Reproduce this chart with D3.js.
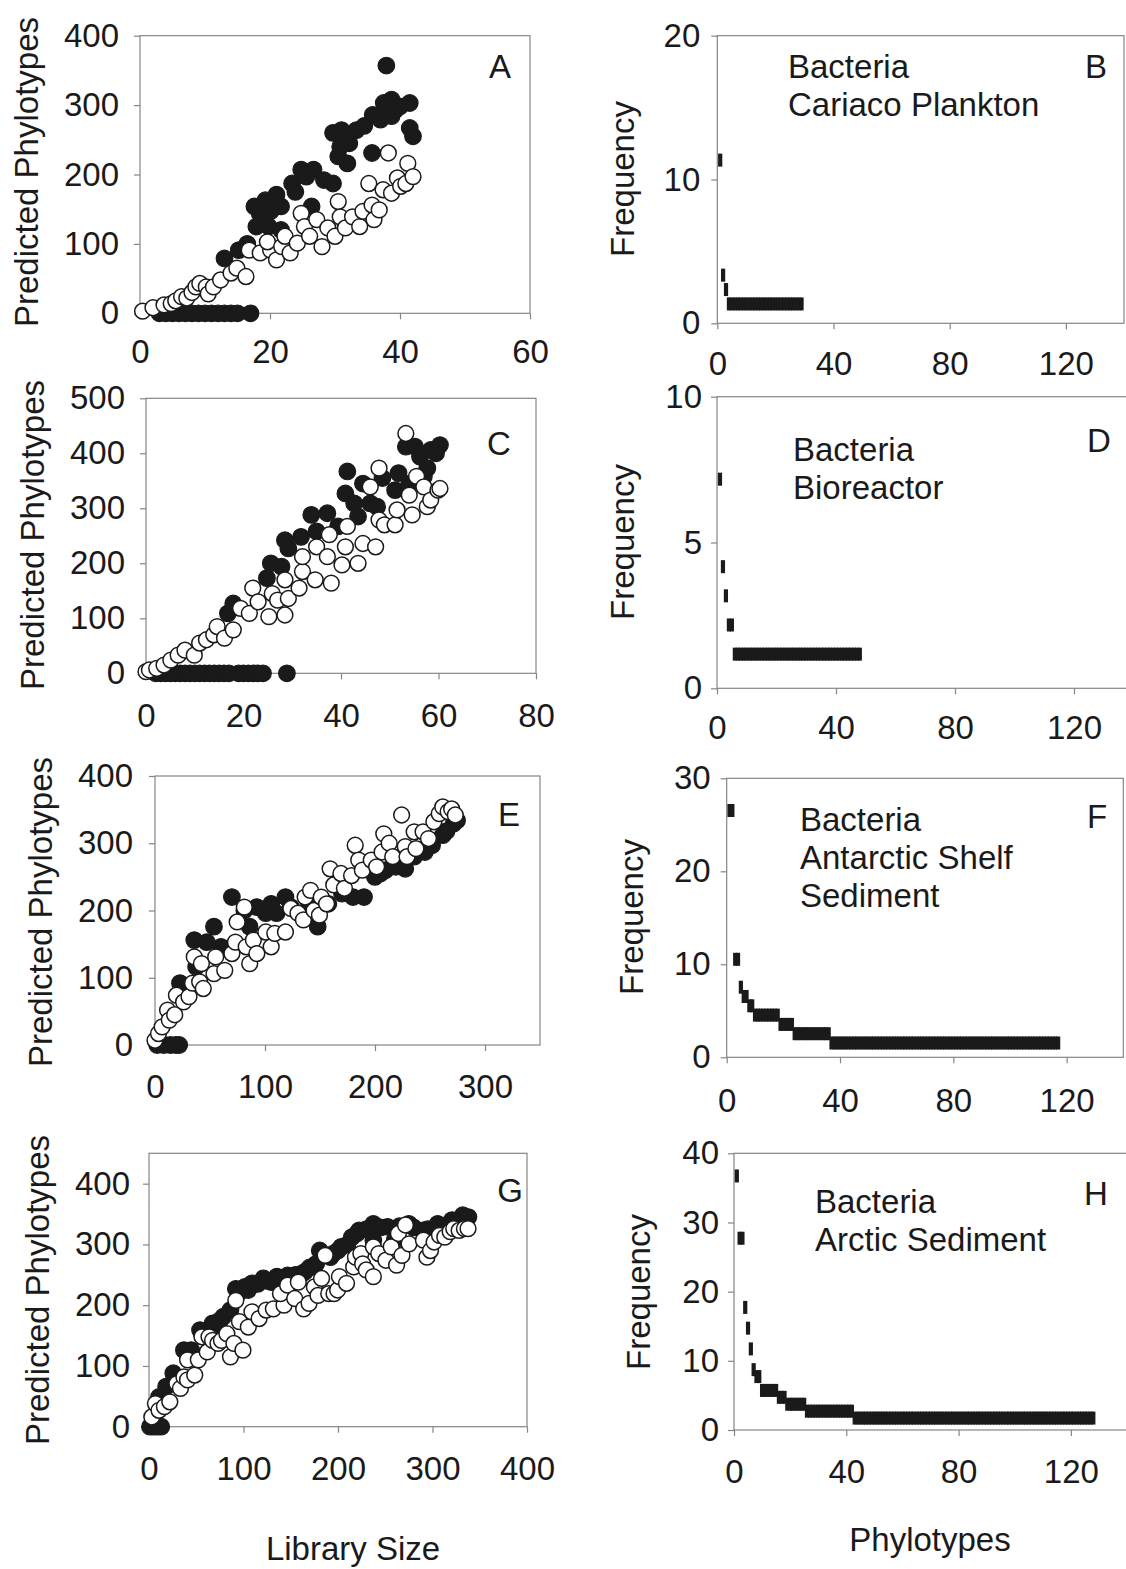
<!DOCTYPE html>
<html>
<head>
<meta charset="utf-8">
<script src="https://cdn.jsdelivr.net/npm/d3@7"></script>
<style>
  body { margin: 0; background: #fff; }
  svg { display: block; font-family: "Liberation Sans", Arial, sans-serif; }
</style>
</head>
<body>
<svg id="fig" width="1126" height="1569"></svg>
<script>
// ---- Library size vs predicted phylotypes (filled = estimator 1, open = estimator 2) ----
const aFilled = [[3,0],[4,0],[5,0],[6,0],[7,0],[8,0],[9,0],[10,0],[11,0],[12,0],[13,0],[14,0],[15,0],[17,0],
  [13,79],[15.2,91],[16.5,100],[17.6,154],[19.3,163],[21,171],[18.4,144],[20.1,147],[21.7,154],[17.9,125],
  [19.8,125],[21.7,120],[23.4,187],[24.8,207],[26.7,207],[25.6,197],[28.3,192],[29.7,187],[23.9,175],[26.4,154],
  [29.7,260],[31,264],[33.3,264],[32.2,245],[30.8,240],[35.7,231],[30.5,226],[31.9,216],[34.5,270],[35.8,286],
  [37,279],[38.7,284],[37.5,303],[38.7,308],[39.3,293],[41.5,303],[41.5,267],[42,255],[37.9,357],[40,298]];
const aOpen = [[0.4,3],[2,8],[3.7,12],[4.8,14],[5.5,18],[6.4,24],[7.2,22],[8,30],[8.6,38],[9.2,43],[10.2,38],
  [10.5,28],[11.3,38],[12.4,48],[14,58],[14.9,65],[16.3,53],[16.8,91],[18.5,87],[20.1,91],[19.6,103],[21,77],
  [21.8,96],[22.3,111],[23.1,87],[24.2,101],[24.8,144],[25.3,125],[26.1,111],[27.2,135],[28,96],[28.9,123],
  [30,111],[30.5,161],[30.8,139],[31.6,123],[32.7,139],[33.8,125],[34.3,147],[35.2,187],[35.7,156],[36,135],
  [36.8,149],[37.4,178],[38.2,231],[38.7,173],[39.6,195],[40.1,183],[40.9,187],[41.2,216],[42,197]];

const cFilled = [[2,0],[3,0],[4,0],[5,0],[6,0],[7,0],[8,0],[9,0],[10,0],[11,0],[12,0],[13,0],[14,0],[15,0],
  [16,0],[17,0],[19,0],[20,0],[21,0],[22,0],[23,0],[24,0],[28.9,0],
  [16.8,109],[17.9,127],[24.8,173],[25.6,200],[27.8,194],[28.5,242],[29.2,227],[31.8,248],[33.9,288],[35,258],
  [37.2,291],[39.4,267],[41.3,367],[40.9,327],[42.7,309],[43.5,285],[44.5,345],[46,309],[47.4,303],[48.5,355],
  [51.1,333],[51.8,364],[53.3,412],[55.2,412],[54,345],[56.2,394],[57.7,373],[58.4,406],[60.3,415],[59.5,400],
  [57,358]];
const cOpen = [[0,3],[0.7,6],[2.2,9],[3.7,15],[5.1,24],[6.6,33],[8,42],[9.9,33],[11,55],[12.4,61],[13.9,70],
  [14.6,85],[16.1,64],[17.9,79],[19.4,118],[21.2,109],[21.9,155],[23,130],[25.2,103],[25.9,145],[27,133],
  [28.5,106],[28.5,170],[29.2,136],[31.4,155],[32.1,185],[32.1,212],[34.7,170],[35,230],[37.2,212],[37.6,252],
  [38,164],[40.2,197],[40.9,230],[41.3,267],[43.5,200],[44.5,236],[46,339],[47.1,230],[47.8,373],[47.8,279],
  [48.9,270],[51.1,270],[51.5,297],[53.3,436],[54,324],[54.6,288],[55.5,358],[57,339],[57.7,303],[58.4,315],
  [59.9,333],[60.3,336]];

const eFilled = [[2,0],[8,0],[14,0],[19,0],[22,0],
  [22.7,92],[35.7,156],[37.4,116],[47,153],[53.6,176],[60,146],[69.9,220],[81.2,200],[86,176],[92.6,205],
  [100.7,196],[105.6,210],[110.5,196],[118.6,220],[123.5,205],[147.9,176],[157.6,210],[180,220],[190,220],
  [199.9,250],[209.6,260],[219,265],[227.5,262],[235.6,280],[245.4,287],[251.9,297],[261.6,312],[271.4,329],
  [274.6,334],[140,210],[170,225],[205,255],[240,290],[265,318]];
const eOpen = [[0,7],[3.2,17],[6.5,27],[11.4,52],[13,37],[17.9,45],[19.5,74],[26,64],[30.9,72],[34.1,92],
  [40.6,94],[35.7,131],[42.2,121],[43.9,84],[53.6,106],[55.2,131],[63.4,111],[69.9,136],[73.1,153],[74.7,183],
  [81.2,205],[82.9,146],[86.1,121],[89.4,156],[92.6,136],[100.7,168],[105.6,146],[108.9,166],[118.6,168],
  [123.5,203],[130,196],[134.9,186],[136.5,220],[141.4,230],[144.6,200],[149.5,193],[151.1,220],[156,210],
  [159.2,262],[162.5,238],[169,255],[172.2,233],[178.7,252],[182,297],[185.2,275],[188.5,260],[196.6,275],
  [201.5,265],[206.4,287],[208,314],[212.9,300],[216.1,280],[224.2,342],[227.5,295],[229.1,280],[235.6,317],
  [237.2,292],[243.7,317],[248.6,307],[253.5,332],[258.4,344],[261.6,354],[266.5,347],[269.7,351],[273,342]];

const gFilled = [[1,0],[5,0],[9,0],[13,0],
  [10.6,49],[18.1,66],[25.7,88],[37,126],[44.6,126],[54,159],[67.3,170],[78.6,181],[86.2,192],[91.9,227],
  [101.3,230],[108.9,236],[121,244],[135.3,247],[146.7,249],[161.8,252],[176.9,268],[180.7,290],[192,279],
  [203.4,296],[214.7,312],[222.3,323],[237.4,334],[252.5,329],[275,334],[290,323],[305.5,334],[320.6,340],
  [332,348],[335.7,342],[237.4,307],[260,307],[70,165],[75,175],[95,220],[105,225],[115,235],[125,240],
  [130,238],[140,245],[150,245],[155,250],[165,255],[170,262],[185,283],[195,285],[200,290],[210,300],
  [220,318],[230,325],[245,328],[265,330],[280,328],[295,325],[300,320],[310,330],[325,338],[338,345]];
const gOpen = [[3,16],[6.8,38],[10.6,27],[16.3,33],[22,41],[29.5,71],[33.3,63],[37,82],[40.8,110],[40.8,77],
  [48.4,85],[52.2,110],[56,148],[61.6,123],[63.5,148],[67.3,142],[73,137],[76.7,142],[82.4,153],[86.2,115],
  [89.9,137],[95.7,173],[99.4,126],[91.9,208],[105.1,164],[108.9,189],[116.5,178],[124,192],[131.6,194],
  [142.9,200],[139.1,219],[146.7,233],[154.2,211],[158,238],[163.7,194],[169.4,203],[175,230],[178.8,216],
  [182.6,244],[186.4,282],[190.2,219],[195.8,219],[199.6,225],[201.5,247],[209,236],[216.6,263],[218.5,279],
  [224.2,285],[226.1,268],[229.9,258],[237.4,247],[237.4,296],[243.1,285],[250.7,274],[256.3,296],[262,266],
  [263.9,318],[267.7,282],[271.4,332],[275.2,301],[290.4,307],[294.1,279],[297.9,290],[301.7,304],[307.4,315],
  [313,312],[318.7,321],[322.5,326],[328.2,323],[333.8,326],[337.6,326]];

// ---- Phylotype frequency classes: [frequency, number of phylotypes], in rank order ----
const bFreq = [[11,1],[3,1],[2,1],[1,26]];
const dFreq = [[7,1],[4,1],[3,1],[2,2],[1,43]];
const fFreq = [[26,2],[10,2],[7,1],[6,2],[5,2],[4,9],[3,5],[2,13],[1,81]];
const hFreq = [[36,1],[27,2],[17,1],[14,1],[11,1],[8,1],[7,2],[5,6],[4,3],[3,7],[2,17],[1,86]];

// ---- tick values ----
const aXTicks = [0,20,40,60],        aYTicks = [0,100,200,300,400];
const bXTicks = [0,40,80,120],       bYTicks = [0,10,20];
const cXTicks = [0,20,40,60,80],     cYTicks = [0,100,200,300,400,500];
const dXTicks = [0,40,80,120],       dYTicks = [0,5,10];
const eXTicks = [0,100,200,300],     eYTicks = [0,100,200,300,400];
const fXTicks = [0,40,80,120],       fYTicks = [0,10,20,30];
const gXTicks = [0,100,200,300,400], gYTicks = [0,100,200,300,400];
const hXTicks = [0,40,80,120],       hYTicks = [0,10,20,30,40];

// ---- panel labels ----
const aLetter = "A", bLetter = "B", cLetter = "C", dLetter = "D";
const eLetter = "E", fLetter = "F", gLetter = "G", hLetter = "H";
const bNote = ["Bacteria", "Cariaco Plankton"];
const dNote = ["Bacteria", "Bioreactor"];
const fNote = ["Bacteria", "Antarctic Shelf", "Sediment"];
const hNote = ["Bacteria", "Arctic Sediment"];

const INK = "#1a1a1a";
const FRAME = "#858585";
const FS = 33;

const svg = d3.select("#fig");

function expandRanks(classes) {
  const out = [];
  classes.forEach(([f, n]) => { for (let k = 0; k < n; k++) out.push({ rank: out.length + 1, freq: f }); });
  return out;
}

function panel(o) {
  const g = svg.append("g");
  const x = d3.scaleLinear().domain(o.xDom).range([o.l, o.r]);
  const y = d3.scaleLinear().domain(o.yDom).range([o.b, o.t]);

  g.append("rect").attr("x", o.l).attr("y", o.t).attr("width", o.r - o.l).attr("height", o.b - o.t)
    .attr("fill", "none").attr("stroke", FRAME).attr("stroke-width", 1.2);

  const xa = g.append("g").attr("transform", `translate(0,${o.b})`)
    .call(d3.axisBottom(x).tickValues(o.xt).tickFormat(d3.format("d")).tickSize(6).tickSizeOuter(0)
      .tickPadding(o.xPad));
  const ya = g.append("g").attr("transform", `translate(${o.l},0)`)
    .call(d3.axisLeft(y).tickValues(o.yt).tickFormat(d3.format("d")).tickSize(6).tickSizeOuter(0)
      .tickPadding(o.yPad));
  [xa, ya].forEach(a => {
    a.select(".domain").remove();
    a.selectAll("line").attr("stroke", FRAME).attr("stroke-width", 1.2);
    a.selectAll("text").attr("fill", INK).style("font-size", FS + "px")
      .style("font-family", '"Liberation Sans", Arial, sans-serif');
  });

  // y title
  g.append("text").attr("transform", `translate(${o.titleX},${o.titleY}) rotate(-90)`)
    .attr("text-anchor", "middle").attr("fill", INK).style("font-size", FS + "px").text(o.title);

  // panel letter
  g.append("text").attr("x", o.letterX).attr("y", o.letterY).attr("text-anchor", "middle")
    .attr("fill", INK).style("font-size", FS + "px").text(o.letter);

  if (o.note) {
    o.note.forEach((line, i) => {
      g.append("text").attr("x", o.noteX).attr("y", o.noteY + i * 38)
        .attr("fill", INK).style("font-size", FS + "px").text(line);
    });
  }

  if (o.filled) {
    g.append("g").selectAll("circle").data(o.filled).join("circle")
      .attr("cx", d => x(d[0])).attr("cy", d => y(d[1])).attr("r", 8.3)
      .attr("fill", INK).attr("stroke", INK).attr("stroke-width", 1.2);
    g.append("g").selectAll("circle").data(o.open).join("circle")
      .attr("cx", d => x(d[0])).attr("cy", d => y(d[1])).attr("r", 7.9)
      .attr("fill", "#fff").attr("stroke", INK).attr("stroke-width", 1.5);
  }

  if (o.freq) {
    const pts = expandRanks(o.freq);
    g.append("g").selectAll("rect").data(pts).join("rect")
      .attr("x", d => x(d.rank) - 2.1).attr("width", 4.2)
      .attr("y", d => y(d.freq) - 11.5).attr("height", 13)
      .attr("fill", INK);
  }
}

panel({ l: 140, r: 530, t: 35.7, b: 313.3, xDom: [0, 60], yDom: [0, 400], xt: aXTicks, yt: aYTicks,
  xPad: 20, yPad: 15, title: "Predicted Phylotypes", titleX: 38, titleY: 172,
  letter: aLetter, letterX: 500, letterY: 78, filled: aFilled, open: aOpen });

panel({ l: 717.3, r: 1124, t: 35.7, b: 323.3, xDom: [0, 140], yDom: [0, 20], xt: bXTicks, yt: bYTicks,
  xPad: 22, yPad: 11, title: "Frequency", titleX: 634, titleY: 179,
  letter: bLetter, letterX: 1096, letterY: 78, note: bNote, noteX: 788, noteY: 78, freq: bFreq });

panel({ l: 146, r: 536, t: 398.3, b: 673.3, xDom: [0, 80], yDom: [0, 500], xt: cXTicks, yt: cYTicks,
  xPad: 24, yPad: 15, title: "Predicted Phylotypes", titleX: 44, titleY: 535,
  letter: cLetter, letterX: 499, letterY: 455, filled: cFilled, open: cOpen });

panel({ l: 717, r: 1133.5, t: 396.7, b: 688.3, xDom: [0, 140], yDom: [0, 10], xt: dXTicks, yt: dYTicks,
  xPad: 21, yPad: 9, title: "Frequency", titleX: 634, titleY: 542,
  letter: dLetter, letterX: 1099, letterY: 452, note: dNote, noteX: 793, noteY: 461, freq: dFreq });

panel({ l: 155, r: 540, t: 776, b: 1045, xDom: [0, 350], yDom: [0, 400], xt: eXTicks, yt: eYTicks,
  xPad: 24, yPad: 16, title: "Predicted Phylotypes", titleX: 52, titleY: 912,
  letter: eLetter, letterX: 509, letterY: 826, filled: eFilled, open: eOpen });

panel({ l: 726.7, r: 1123.3, t: 778.3, b: 1057.3, xDom: [0, 140], yDom: [0, 30], xt: fXTicks, yt: fYTicks,
  xPad: 25, yPad: 10, title: "Frequency", titleX: 643, titleY: 917,
  letter: fLetter, letterX: 1097, letterY: 828, note: fNote, noteX: 800, noteY: 831, freq: fFreq });

panel({ l: 149, r: 527, t: 1153.3, b: 1426.7, xDom: [0, 400], yDom: [0, 450], xt: gXTicks, yt: gYTicks,
  xPad: 24, yPad: 13, title: "Predicted Phylotypes", titleX: 49, titleY: 1290,
  letter: gLetter, letterX: 510, letterY: 1202, filled: gFilled, open: gOpen });

panel({ l: 734, r: 1127, t: 1153.3, b: 1430, xDom: [0, 140], yDom: [0, 40], xt: hXTicks, yt: hYTicks,
  xPad: 24, yPad: 9, title: "Frequency", titleX: 650, titleY: 1292,
  letter: hLetter, letterX: 1096, letterY: 1205, note: hNote, noteX: 815, noteY: 1213, freq: hFreq });

// shared x titles
svg.append("text").attr("x", 353).attr("y", 1560).attr("text-anchor", "middle")
  .attr("fill", INK).style("font-size", FS + "px").text("Library Size");
svg.append("text").attr("x", 930).attr("y", 1551).attr("text-anchor", "middle")
  .attr("fill", INK).style("font-size", FS + "px").text("Phylotypes");
</script>
</body>
</html>
